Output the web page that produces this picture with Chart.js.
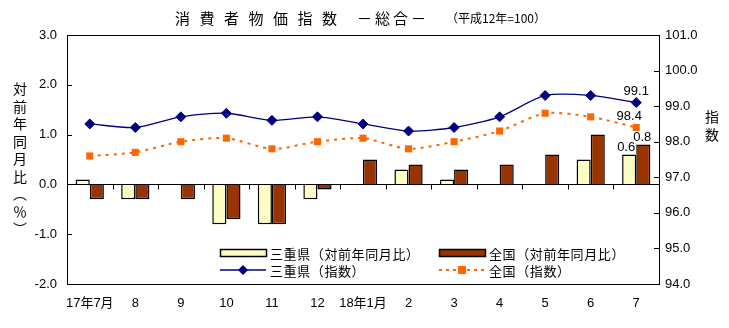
<!DOCTYPE html>
<html lang="ja">
<head>
<meta charset="utf-8">
<script src="https://cdn.jsdelivr.net/npm/chart.js"></script>
<style>
  html, body { margin: 0; padding: 0; background: #fff; }
  #wrap { position: relative; width: 729px; height: 328px; }
</style>
</head>
<body>
<div id="wrap"><canvas id="cpi" width="729" height="328"></canvas></div>
<script>
// months, Heisei 17/7 .. 18/7
const months = ['17年7月', '8', '9', '10', '11', '12', '18年1月', '2', '3', '4', '5', '6', '7'];
// year-on-year change (%)
const mieYoY = [0.1, -0.3, 0.0, -0.8, -0.8, -0.3, 0.0, 0.3, 0.1, 0.0, 0.0, 0.5, 0.6];
const zenkokuYoY = [-0.3, -0.3, -0.3, -0.7, -0.8, -0.1, 0.5, 0.4, 0.3, 0.4, 0.6, 1.0, 0.8];
// index (H12 = 100)
const mieIndex = [98.5, 98.4, 98.7, 98.8, 98.6, 98.7, 98.5, 98.3, 98.4, 98.7, 99.3, 99.3, 99.1];
const zenkokuIndex = [97.6, 97.7, 98.0, 98.1, 97.8, 98.0, 98.1, 97.8, 98.0, 98.3, 98.8, 98.7, 98.4];

const leftTicks = [-2, -1, 0, 1, 2, 3];
const rightTicks = [94, 95, 96, 97, 98, 99, 100, 101];

const NUM_FONT = '13px "Liberation Sans", Arial, sans-serif';
const JP_FONT = '"Noto Sans CJK JP", sans-serif';

// pale yellow with a faint dot texture
function dotPattern() {
  const c = document.createElement('canvas');
  c.width = 4; c.height = 4;
  const g = c.getContext('2d');
  g.fillStyle = '#FFFFCC';
  g.fillRect(0, 0, 4, 4);
  g.fillStyle = '#EDEDB0';
  g.fillRect(0, 0, 1, 1);
  g.fillRect(2, 2, 1, 1);
  return g.createPattern(c, 'repeat');
}

const decor = {
  id: 'decor',
  afterDraw(chart) {
    const ctx = chart.ctx;
    const a = chart.chartArea;
    const x = chart.scales.x, y = chart.scales.y, y1 = chart.scales.y1;
    ctx.save();

    // frame
    ctx.strokeStyle = '#000';
    ctx.lineWidth = 1;
    ctx.strokeRect(Math.round(a.left) + 0.5, Math.round(a.top) + 0.5,
                   Math.round(a.right - a.left), Math.round(a.bottom - a.top));

    // inward ticks on both value axes
    ctx.beginPath();
    leftTicks.forEach(v => {
      const py = Math.round(y.getPixelForValue(v)) + 0.5;
      ctx.moveTo(a.left, py); ctx.lineTo(a.left + 5, py);
    });
    rightTicks.forEach(v => {
      const py = Math.round(y1.getPixelForValue(v)) + 0.5;
      ctx.moveTo(a.right, py); ctx.lineTo(a.right - 5, py);
    });
    // zero line with category separators
    const zy = Math.round(y.getPixelForValue(0)) + 0.5;
    ctx.moveTo(a.left, zy); ctx.lineTo(a.right, zy);
    const w = (a.right - a.left) / months.length;
    for (let i = 1; i < months.length; i++) {
      const px = Math.round(a.left + w * i) + 0.5;
      ctx.moveTo(px, zy); ctx.lineTo(px, zy + 5);
    }
    ctx.stroke();

    // value labels for the last month
    const last = months.length - 1;
    ctx.fillStyle = '#000';
    ctx.font = NUM_FONT;
    ctx.textAlign = 'center';
    ctx.textBaseline = 'bottom';
    const pMie = chart.getDatasetMeta(2).data[last];
    const pZen = chart.getDatasetMeta(3).data[last];
    ctx.fillText(mieIndex[last].toFixed(1), pMie.x, pMie.y - 5);
    ctx.fillText(zenkokuIndex[last].toFixed(1), pZen.x - 7, pZen.y - 5);
    const bMie = chart.getDatasetMeta(0).data[last];
    const bZen = chart.getDatasetMeta(1).data[last];
    ctx.fillText(mieYoY[last].toFixed(1), bMie.x - 3, bMie.y - 1);
    ctx.fillText(zenkokuYoY[last].toFixed(1), bZen.x - 1, bZen.y - 1);

    // legend
    const legend = [
      { t: '三重県（対前年同月比）', kind: 'bar', fill: chart.data.datasets[0].backgroundColor, x: 220, y: 253 },
      { t: '全国（対前年同月比）', kind: 'bar', fill: '#993300', x: 439, y: 253 },
      { t: '三重県（指数）', kind: 'mie', x: 220, y: 270 },
      { t: '全国（指数）', kind: 'zen', x: 439, y: 270 }
    ];
    legend.forEach(e => {
      if (e.kind === 'bar') {
        ctx.fillStyle = e.fill;
        ctx.fillRect(e.x, e.y - 4, 46, 8);
        ctx.strokeStyle = '#000';
        ctx.lineWidth = 1.5;
        ctx.strokeRect(e.x + 0.5, e.y - 3.5, 46, 7);
      } else if (e.kind === 'mie') {
        ctx.strokeStyle = '#000080';
        ctx.lineWidth = 1.3;
        ctx.beginPath(); ctx.moveTo(e.x, e.y); ctx.lineTo(e.x + 46, e.y); ctx.stroke();
        ctx.fillStyle = '#000080';
        ctx.beginPath();
        ctx.moveTo(e.x + 23, e.y - 5); ctx.lineTo(e.x + 28, e.y);
        ctx.lineTo(e.x + 23, e.y + 5); ctx.lineTo(e.x + 18, e.y);
        ctx.closePath(); ctx.fill();
      } else {
        ctx.strokeStyle = '#FF6600';
        ctx.lineWidth = 2;
        ctx.setLineDash([3, 4]);
        ctx.beginPath(); ctx.moveTo(e.x, e.y); ctx.lineTo(e.x + 46, e.y); ctx.stroke();
        ctx.setLineDash([]);
        ctx.fillStyle = '#FF6600';
        ctx.fillRect(e.x + 19, e.y - 4, 8, 8);
      }
      ctx.fillStyle = '#000';
      ctx.font = '13px ' + JP_FONT;
      ctx.letterSpacing = '0.6px';
      ctx.textAlign = 'left';
      ctx.textBaseline = 'middle';
      ctx.fillText(e.t, e.x + 50, e.y + 1);
      ctx.letterSpacing = '0px';
    });

    // title, characters spread out
    ctx.textBaseline = 'middle';
    ctx.textAlign = 'left';
    ctx.font = '15px ' + JP_FONT;
    '消費者物価指数'.split('').forEach((ch, i) => ctx.fillText(ch, 175 + i * 24.5, 18));
    '－総合－'.split('').forEach((ch, i) => ctx.fillText(ch, 357 + i * 18, 18));
    ctx.font = '12px ' + JP_FONT;
    ctx.fillText('（平成12年=100）', 446, 18, 100);

    // axis titles, stacked vertically
    ctx.font = '14px ' + JP_FONT;
    ctx.textAlign = 'center';
    '対前年同月比︵％︶'.split('').forEach((ch, i) => ctx.fillText(ch, 20, 89 + i * 17.5));
    '指数'.split('').forEach((ch, i) => ctx.fillText(ch, 712, 117 + i * 18));

    ctx.restore();
  }
};

const ctx = document.getElementById('cpi').getContext('2d');
new Chart(ctx, {
  data: {
    labels: months,
    datasets: [
      { type: 'bar', label: '三重県（対前年同月比）', data: mieYoY, yAxisID: 'y',
        backgroundColor: dotPattern(), borderColor: '#000', borderWidth: 1.5, order: 2 },
      { type: 'bar', label: '全国（対前年同月比）', data: zenkokuYoY, yAxisID: 'y',
        backgroundColor: '#993300', borderColor: '#000', borderWidth: 1.5, order: 2 },
      { type: 'line', label: '三重県（指数）', data: mieIndex, yAxisID: 'y1',
        borderColor: '#000080', borderWidth: 1.3, tension: 0.25,
        pointStyle: 'rectRot', pointRadius: 5, pointBackgroundColor: '#000080',
        pointBorderColor: '#000080', pointBorderWidth: 1, order: 1 },
      { type: 'line', label: '全国（指数）', data: zenkokuIndex, yAxisID: 'y1',
        borderColor: '#FF6600', borderWidth: 2, borderDash: [3, 5], tension: 0.25,
        pointStyle: 'rect', pointRadius: 5, pointBackgroundColor: '#FF6600',
        pointBorderColor: '#FF6600', pointBorderWidth: 0, order: 1 }
    ]
  },
  options: {
    responsive: false,
    animation: false,
    layout: { padding: { top: 35, bottom: 0, left: 0, right: 0 } },
    datasets: { bar: { categoryPercentage: 0.62, barPercentage: 1.0 } },
    plugins: { legend: { display: false }, tooltip: { enabled: false } },
    scales: {
      x: {
        grid: { display: false, drawTicks: false },
        border: { display: false },
        ticks: { color: '#000', font: { family: '"Liberation Sans", "Noto Sans CJK JP", sans-serif', size: 13 },
                 padding: 12, maxRotation: 0, autoSkip: false },
        afterFit(s) { s.height = 44; }
      },
      y: {
        position: 'left', min: -2, max: 3,
        grid: { display: false, drawTicks: false },
        border: { display: false },
        ticks: { stepSize: 1, color: '#000', font: { family: '"Liberation Sans", Arial, sans-serif', size: 13 },
                 padding: 10, callback: v => v.toFixed(1) },
        afterFit(s) { s.width = 67; }
      },
      y1: {
        position: 'right', min: 94, max: 101,
        grid: { display: false, drawTicks: false },
        border: { display: false },
        ticks: { stepSize: 1, color: '#000', font: { family: '"Liberation Sans", Arial, sans-serif', size: 13 },
                 padding: 6, callback: v => v.toFixed(1) },
        afterFit(s) { s.width = 70; }
      }
    }
  },
  plugins: [decor]
});
</script>
</body>
</html>
